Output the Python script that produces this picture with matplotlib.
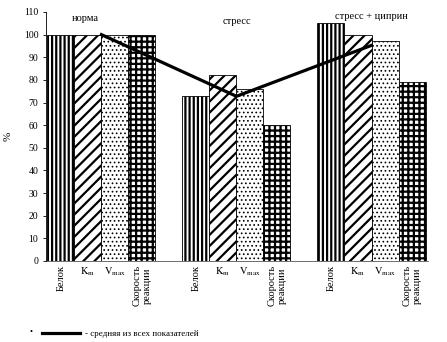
import matplotlib
matplotlib.use('Agg')
import matplotlib.pyplot as plt
import numpy as np

groups = ["норма", "стресс", "стресс + циприн"]
indicators = ["Белок", r"$\mathrm{K}_\mathrm{m}$", r"$\mathrm{V}_\mathrm{max}$", "Скорость\nреакции"]
values = [
    [100, 100, 100, 100],
    [73, 82, 76, 60],
    [105, 100, 97, 79],
]
hatches = ["||||", "///", "....", "+++"]
hatch_lw = [1.6, 1.6, 0.7, 1.6]

plt.rcParams['font.family'] = ['Liberation Serif', 'DejaVu Serif']
plt.rcParams['mathtext.fontset'] = 'stix'

fig = plt.figure(figsize=(4.47, 3.42), dpi=100)
ax = fig.add_axes([0.103, 0.237, 0.855, 0.728])

xs, labels = [], []
for g, vals in enumerate(values):
    for j, v in enumerate(vals):
        x = g * 5 + j
        plt.rcParams['hatch.linewidth'] = hatch_lw[j]
        ax.bar(x, v, width=1.0, color="white", edgecolor="black",
               linewidth=0.6, hatch=hatches[j])
        xs.append(x)
        labels.append(indicators[j])

# mean line through group centres
centers = [g * 5 + 1.5 for g in range(len(groups))]
means = [np.mean(v) for v in values]
line, = ax.plot(centers, means, color="black", lw=2.3)

label_y = [107, 106, 108]
for g, name in enumerate(groups):
    ax.text(centers[g] - (0.6 if g == 0 else 0), label_y[g], name,
            ha="center", va="center", fontsize=7.5)

ax.set_xlim(-0.55, 13.6)
ax.set_ylim(0, 110)
ax.set_yticks(range(0, 111, 10))
ax.tick_params(axis="y", labelsize=7, length=2, width=0.6)
ax.tick_params(axis="x", length=0, labelsize=7.5, pad=3)
ax.set_xticks(xs)
ax.set_xticklabels(labels)
for i, t in enumerate(ax.get_xticklabels()):
    if i % 4 in (0, 3):
        t.set_rotation(90)
        t.set_va("top")
ax.set_ylabel("%", fontsize=8, labelpad=8)
for s in ["top", "right"]:
    ax.spines[s].set_visible(False)
ax.spines["left"].set_linewidth(0.6)
ax.spines["bottom"].set_linewidth(0.4)

fig.text(0.065, 0.03, "•", fontsize=6, va="center")
fig.legend([line], ["- средняя из всех показателей"], loc="lower left",
           bbox_to_anchor=(0.075, -0.012), frameon=False, fontsize=6.5,
           handlelength=4.2, handletextpad=0.6)

plt.savefig("out.png", dpi=100)
plt.close()
